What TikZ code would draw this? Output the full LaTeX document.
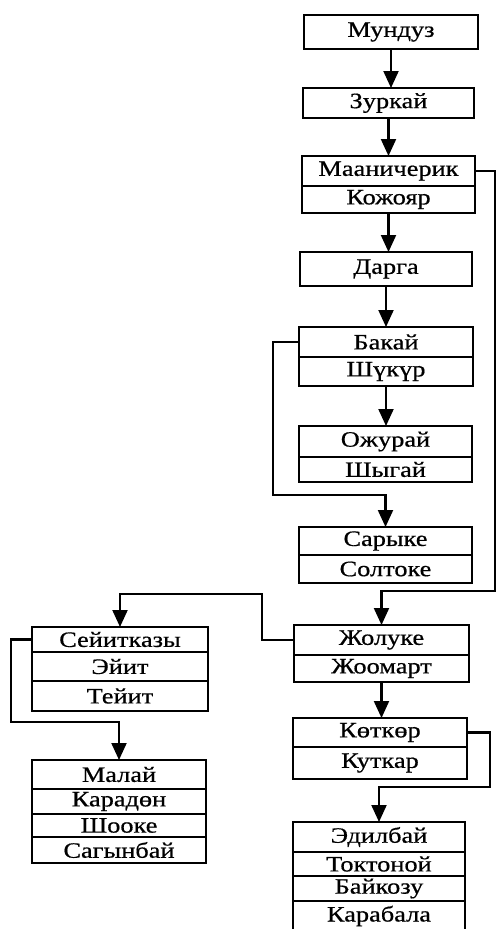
\documentclass[tikz,border=0pt]{standalone}
\usepackage{fontspec}
\setmainfont[FakeStretch=1.2,FakeBold=0.6]{Liberation Serif}
\usetikzlibrary{arrows.meta}
\def\pxu{0.02cm}
\tikzset{
  cell/.style={draw, line width=0.85pt, inner sep=0pt, outer sep=0pt,
    font=\fontsize{12.5}{14}\selectfont},
  arr/.style={line width=1.2pt, -{Triangle[length=0.34cm,width=0.3cm]}}
}
\begin{document}
\begin{tikzpicture}[x=0.02cm,y=-0.02cm]
\useasboundingbox (0,0) rectangle (500,929);
% main column
\node[cell, minimum width=174*\pxu, minimum height=34*\pxu] (b1) at (391,32) {Мундуз};
\node[cell, minimum width=171*\pxu, minimum height=30*\pxu] (b2) at (388.5,103) {Зуркай};
\node[cell, minimum width=173*\pxu, minimum height=30*\pxu] (b3a) at (388.5,171) {Мааничерик};
\node[cell, minimum width=173*\pxu, minimum height=27*\pxu] (b3b) at (388.5,199.5) {Кожояр};
\node[cell, minimum width=172*\pxu, minimum height=34*\pxu] (b4) at (386,269) {Дарга};
\node[cell, minimum width=174*\pxu, minimum height=30*\pxu] (b5a) at (386,342) {Бакай};
\node[cell, minimum width=174*\pxu, minimum height=29*\pxu] (b5b) at (386,371.5) {Шүкүр};
\node[cell, minimum width=173*\pxu, minimum height=31*\pxu] (b6a) at (385.5,441.5) {Ожурай};
\node[cell, minimum width=173*\pxu, minimum height=25*\pxu] (b6b) at (385.5,469.5) {Шыгай};
\node[cell, minimum width=173*\pxu, minimum height=28*\pxu] (b7a) at (385.5,541) {Сарыке};
\node[cell, minimum width=173*\pxu, minimum height=28*\pxu] (b7b) at (385.5,569) {Солтоке};
\node[cell, minimum width=175*\pxu, minimum height=30*\pxu] (b8a) at (381.5,640) {Жолуке};
\node[cell, minimum width=175*\pxu, minimum height=27*\pxu] (b8b) at (381.5,668.5) {Жоомарт};
\node[cell, minimum width=174*\pxu, minimum height=29*\pxu] (b11a) at (380,732.5) {Көткөр};
\node[cell, minimum width=174*\pxu, minimum height=32*\pxu] (b11b) at (380,763) {Куткар};
\node[cell, minimum width=172*\pxu, minimum height=30*\pxu] (b12a) at (379,837) {Эдилбай};
\node[cell, minimum width=172*\pxu, minimum height=24*\pxu] (b12b) at (379,864) {Токтоной};
\node[cell, minimum width=172*\pxu, minimum height=25*\pxu] (b12c) at (379,888.5) {Байкозу};
\node[cell, minimum width=172*\pxu, minimum height=30*\pxu] (b12d) at (379,916) {Карабала};
% left column
\node[cell, minimum width=176*\pxu, minimum height=25*\pxu] (b9a) at (120,639.5) {Сейитказы};
\node[cell, minimum width=176*\pxu, minimum height=29*\pxu] (b9b) at (120,666.5) {Эйит};
\node[cell, minimum width=176*\pxu, minimum height=30*\pxu] (b9c) at (120,696) {Тейит};
\node[cell, minimum width=174*\pxu, minimum height=29*\pxu] (b10a) at (119,774.5) {Малай};
\node[cell, minimum width=174*\pxu, minimum height=25*\pxu] (b10b) at (119,801.5) {Карадөн};
\node[cell, minimum width=174*\pxu, minimum height=23*\pxu] (b10c) at (119,825.5) {Шооке};
\node[cell, minimum width=174*\pxu, minimum height=26*\pxu] (b10d) at (119,850) {Сагынбай};
% bend points
\coordinate (k1) at (273,495);
\coordinate (k2) at (495,591);
\coordinate (k3) at (262,594);
\coordinate (k4) at (11,722);
\coordinate (k5) at (490,787);
% straight arrows
\draw[arr] (b1.south) -- (b1.south |- b2.north);
\draw[arr] (b2.south) -- (b2.south |- b3a.north);
\draw[arr] (b3b.south) -- (b3b.south |- b4.north);
\draw[arr] (b4.south) -- (b4.south |- b5a.north);
\draw[arr] (b5b.south) -- (b5b.south |- b6a.north);
\draw[arr] (b8b.south) -- (b8b.south |- b11a.north);
% bent arrows
\draw[arr] (b5a.west) -| (k1) -| (b7a.north);
\draw[arr] (b3a.east) -| (k2) -| (b8a.north);
\draw[arr] (b8a.west) -| (k3) -| (b9a.north);
\draw[arr] (b9a.west) -| (k4) -| (b10a.north);
\draw[arr] (b11a.east) -| (k5) -| (b12a.north);
\end{tikzpicture}
\end{document}
